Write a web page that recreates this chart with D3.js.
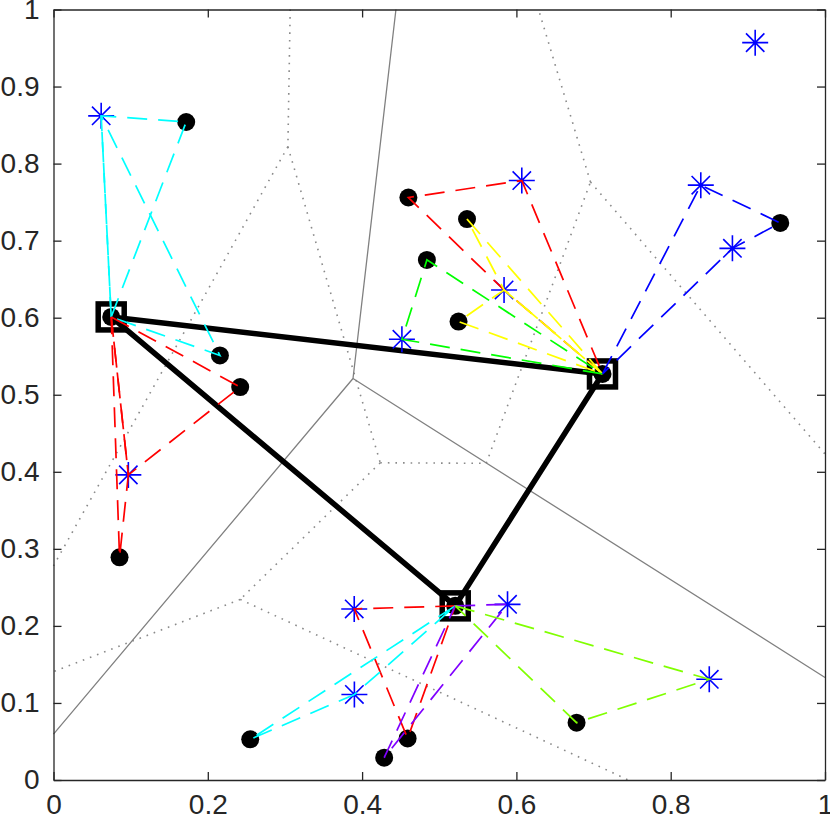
<!DOCTYPE html>
<html>
<head>
<meta charset="utf-8">
<script src="https://cdn.jsdelivr.net/npm/d3@7"></script>
<style>
  body { margin: 0; background: #fff; }
  svg { display: block; }
  .tick text { font-family: "Liberation Sans", Arial, sans-serif; }
</style>
</head>
<body>
<div id="chart"></div>
<script>
// hubs (squares)
const hubX = [0.0748, 0.7116, 0.5207];
const hubY = [0.601, 0.527, 0.226];

// customers shown as black dots
const dotX = [0.172, 0.2157, 0.242, 0.0856, 0.460, 0.536, 0.484, 0.525, 0.942, 0.255, 0.459, 0.4286, 0.678];
const dotY = [0.854, 0.551, 0.510, 0.289, 0.756, 0.728, 0.675, 0.595, 0.723, 0.0528, 0.054, 0.029, 0.0744];

// customers shown as blue stars
const starX = [0.0618, 0.097, 0.607, 0.584, 0.4516, 0.839, 0.880, 0.9095, 0.3898, 0.5885, 0.390, 0.850];
const starY = [0.862, 0.396, 0.778, 0.636, 0.572, 0.772, 0.690, 0.957, 0.222, 0.228, 0.111, 0.1307];

// tours: h = hub, d = dot, s = star
const routeColors = ["#00ffff", "#00ffff", "#ff0000", "#ff0000", "#ff0000", "#ffff00", "#ffff00", "#00ff00",
                     "#0000ff", "#ff0000", "#00ffff", "#8000ff", "#80ff00"];
const routeStops = [
  ["h0", "d0", "s0", "h0"],
  ["h0", "s0", "d1", "h0"],
  ["h0", "d2", "s1", "h0"],
  ["h0", "s1", "d3", "h0"],
  ["h1", "s3", "d4", "s2", "h1"],
  ["h1", "d5", "s3", "h1"],
  ["h1", "s3", "d7", "h1"],
  ["h1", "s4", "d6", "h1"],
  ["h1", "s5", "d8", "s6", "h1"],
  ["h2", "s8", "d10", "h2"],
  ["h2", "d9", "s10", "h2"],
  ["h2", "s9", "d11", "h2"],
  ["h2", "s11", "d12", "h2"]
];

// dotted edges of the second partition (x1, y1, x2, y2)
const dotEdgeX1 = [0.3068, 0.3038, 0.3038, 0.4235, 0.242, 0.242, 0.4235, 0.5609, 0.696, 0.696];
const dotEdgeY1 = [1.0, 0.822, 0.822, 0.4117, 0.2344, 0.2344, 0.4117, 0.411, 0.776, 0.776];
const dotEdgeX2 = [0.3038, 0.0, 0.4235, 0.242, 0.0, 0.745, 0.5609, 0.696, 0.6287, 1.0];
const dotEdgeY2 = [0.822, 0.278, 0.4117, 0.2344, 0.1406, 0.0, 0.411, 0.776, 1.0, 0.423];

const xTicks = [0, 0.2, 0.4, 0.6, 0.8, 1];
const yTicks = [0, 0.1, 0.2, 0.3, 0.4, 0.5, 0.6, 0.7, 0.8, 0.9, 1];

const svgWidth = 830;
const svgHeight = 827;
const margin = { top: 9.5, left: 53.5, right: 5, bottom: 47 };
const w = svgWidth - margin.left - margin.right;
const h = svgHeight - margin.top - margin.bottom;

const svg = d3.select("#chart")
  .append("svg")
  .attr("width", svgWidth)
  .attr("height", svgHeight);

const chart = svg.append("g")
  .attr("transform", `translate(${margin.left},${margin.top})`);

const xScale = d3.scaleLinear().domain([0, 1]).range([0, w]);
const yScale = d3.scaleLinear().domain([0, 1]).range([h, 0]);

const hubs = hubX.map((x, i) => [x, hubY[i]]);
const dots = dotX.map((x, i) => [x, dotY[i]]);
const stars = starX.map((x, i) => [x, starY[i]]);
const lookup = { h: hubs, d: dots, s: stars };
const pt = id => lookup[id[0]][+id.slice(1)];

const plot = chart.append("g");

// dotted partition
plot.selectAll(".dotedge")
  .data(dotEdgeX1)
  .enter()
  .append("line")
  .attr("x1", d => xScale(d))
  .attr("y1", (d, i) => yScale(dotEdgeY1[i]))
  .attr("x2", (d, i) => xScale(dotEdgeX2[i]))
  .attr("y2", (d, i) => yScale(dotEdgeY2[i]))
  .attr("stroke", "#8a8a8a")
  .attr("stroke-width", 1.6)
  .attr("stroke-dasharray", "1.6,6");

// voronoi of the hubs, in data space, drawn through the scales
const vor = d3.Delaunay.from(hubs).voronoi([0, 0, 1, 1]);
const vp = d3.path();
vor.render({
  moveTo: (x, y) => vp.moveTo(xScale(x), yScale(y)),
  lineTo: (x, y) => vp.lineTo(xScale(x), yScale(y)),
  closePath: () => vp.closePath()
});
plot.append("path")
  .attr("d", vp.toString())
  .attr("fill", "none")
  .attr("stroke", "#808080")
  .attr("stroke-width", 1.3);

// triangle between hubs
const line = d3.line().x(d => xScale(d[0])).y(d => yScale(d[1]));
plot.append("path")
  .attr("d", line(hubs.concat([hubs[0]])))
  .attr("fill", "none")
  .attr("stroke", "#000")
  .attr("stroke-width", 5.5)
  .attr("stroke-linejoin", "round");

// hub squares
plot.selectAll(".hub")
  .data(hubs)
  .enter()
  .append("rect")
  .attr("x", d => xScale(d[0]) - 13)
  .attr("y", d => yScale(d[1]) - 13)
  .attr("width", 26)
  .attr("height", 26)
  .attr("fill", "none")
  .attr("stroke", "#000")
  .attr("stroke-width", 5.5);

// black dots (hubs too)
plot.selectAll(".dot")
  .data(dots.concat(hubs))
  .enter()
  .append("circle")
  .attr("cx", d => xScale(d[0]))
  .attr("cy", d => yScale(d[1]))
  .attr("r", 9)
  .attr("fill", "#000");

// stars
const arm = 13, diag = 13 * Math.SQRT1_2;
const starPath = `M${-arm},0L${arm},0M0,${-arm}L0,${arm}` +
  `M${-diag},${-diag}L${diag},${diag}M${-diag},${diag}L${diag},${-diag}`;
plot.selectAll(".star")
  .data(stars)
  .enter()
  .append("path")
  .attr("transform", d => `translate(${xScale(d[0])},${yScale(d[1])})`)
  .attr("d", starPath)
  .attr("stroke", "#0000ff")
  .attr("stroke-width", 1.6)
  .attr("fill", "none");

// tours
plot.selectAll(".route")
  .data(routeStops)
  .enter()
  .append("path")
  .attr("d", d => line(d.map(pt)))
  .attr("fill", "none")
  .attr("stroke", (d, i) => routeColors[i])
  .attr("stroke-width", 1.7)
  .attr("stroke-dasharray", "20,11");

// axes (box with inward ticks)
const axisColor = "#262626";
function styleAxis(g) {
  g.select(".domain").attr("stroke", axisColor).attr("stroke-width", 1.3);
  g.selectAll(".tick line").attr("stroke", axisColor).attr("stroke-width", 1.3);
  g.selectAll(".tick text").attr("fill", axisColor).style("font-size", "28px");
}

chart.append("g")
  .attr("transform", `translate(0,${h})`)
  .call(d3.axisBottom(xScale).tickValues(xTicks).tickFormat(d3.format("")).tickSizeInner(-8).tickSizeOuter(0).tickPadding(14))
  .call(styleAxis);
chart.append("g")
  .call(d3.axisTop(xScale).tickValues(xTicks).tickFormat("").tickSizeInner(-8).tickSizeOuter(0))
  .call(styleAxis);
chart.append("g")
  .call(d3.axisLeft(yScale).tickValues(yTicks).tickFormat(d3.format("")).tickSizeInner(-8).tickSizeOuter(0).tickPadding(14))
  .call(styleAxis);
chart.append("g")
  .attr("transform", `translate(${w},0)`)
  .call(d3.axisRight(yScale).tickValues(yTicks).tickFormat("").tickSizeInner(-8).tickSizeOuter(0))
  .call(styleAxis);
</script>
</body>
</html>
